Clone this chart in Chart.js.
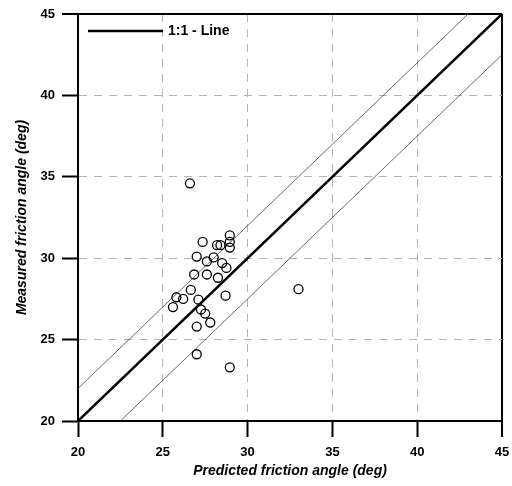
<!DOCTYPE html>
<html>
<head>
<meta charset="utf-8">
<script src="https://cdn.jsdelivr.net/npm/chart.js@4/dist/chart.umd.min.js"></script>
<style>
  html, body { margin: 0; padding: 0; background: #fff; }
  #wrap { width: 512px; height: 486px; }
</style>
</head>
<body>
<div id="wrap"><canvas id="chart" width="512" height="486"></canvas></div>
<script>
// measured vs predicted friction angles (deg)
const predicted = [26.6, 28.95, 27.35, 28.2, 28.4, 28.95, 28.95, 27.0, 28.0, 27.6,
  28.5, 28.75, 26.85, 27.6, 28.25, 26.65, 25.8, 26.2, 25.6, 28.7,
  27.1, 27.25, 27.5, 27.0, 27.8, 27.0, 28.95, 33.0];
const measured = [34.6, 31.4, 31.0, 30.8, 30.8, 31.0, 30.65, 30.1, 30.05, 29.8,
  29.7, 29.4, 29.0, 29.0, 28.8, 28.05, 27.6, 27.5, 27.0, 27.7,
  27.45, 26.85, 26.6, 25.8, 26.05, 24.1, 23.3, 28.1];

// 1:1 line and the two bounding lines
const oneToOneX = [20, 45];
const oneToOneY = [20, 45];
const upperX = [20, 43];
const upperY = [22, 45];
const lowerX = [22.5, 45];
const lowerY = [20, 42.5];

const axisMin = 20;
const axisMax = 45;
const tickStep = 5;

const legendLabel = "1:1 - Line";
const xTitle = "Predicted friction angle (deg)";
const yTitle = "Measured friction angle (deg)";

const toPoints = (xs, ys) => xs.map((x, i) => ({ x, y: ys[i] }));

const legendInside = {
    id: "legendInside",
    afterDraw(chart) {
        const ctx = chart.ctx;
        const a = chart.chartArea;
        ctx.save();
        ctx.strokeStyle = "#000";
        ctx.lineWidth = 2.5;
        ctx.beginPath();
        ctx.moveTo(a.left + 10, a.top + 17);
        ctx.lineTo(a.left + 85, a.top + 17);
        ctx.stroke();
        ctx.fillStyle = "#000";
        ctx.font = "bold 14px 'Liberation Sans', Arial, sans-serif";
        ctx.textBaseline = "middle";
        ctx.fillText(legendLabel, a.left + 90, a.top + 17);
        ctx.restore();
    }
};

const gridColor = c => (c.tick && c.tick.value === axisMax) ? "#000" : "#b4b4b4";
const gridWidth = c => (c.tick && c.tick.value === axisMax) ? 2 : 1;
const gridDash = c => (c.tick && c.tick.value !== axisMax) ? [8, 7] : [];

function makeAxis(title, isX) {
    return {
        type: "linear",
        min: axisMin,
        max: axisMax,
        ticks: {
            stepSize: tickStep,
            color: "#000",
            padding: isX ? 8 : 7,
            font: { family: "'Liberation Sans', Arial, sans-serif", size: 13, weight: "bold" }
        },
        grid: {
            color: gridColor,
            lineWidth: gridWidth,
            tickColor: "#000",
            tickWidth: 2,
            tickLength: 16,
            tickBorderDash: []
        },
        border: { color: "#000", width: 2, dash: gridDash },
        title: {
            display: true,
            text: title,
            color: "#000",
            padding: isX ? { top: 0, bottom: 6 } : { top: 14, bottom: 14 },
            font: { family: "'Liberation Sans', Arial, sans-serif", size: 14, weight: "bold", style: "italic" }
        },
        afterFit: s => {
            s.paddingLeft = 0;
            s.paddingRight = 0;
            s.paddingTop = 0;
            s.paddingBottom = 0;
            if (isX) s.height = 65;
            else s.width = 78;
        }
    };
}

new Chart(document.getElementById("chart"), {
    type: "scatter",
    data: {
        datasets: [
            {
                label: "data",
                data: toPoints(predicted, measured),
                pointRadius: 4.5,
                pointBorderWidth: 1.3,
                pointBorderColor: "#000",
                pointBackgroundColor: "rgba(255,255,255,0)",
                order: 0
            },
            {
                label: legendLabel,
                data: toPoints(oneToOneX, oneToOneY),
                showLine: true,
                borderColor: "#000",
                borderWidth: 2.5,
                pointRadius: 0,
                order: 1
            },
            {
                label: "upper",
                data: toPoints(upperX, upperY),
                showLine: true,
                borderColor: "#444",
                borderWidth: 0.8,
                pointRadius: 0,
                order: 2
            },
            {
                label: "lower",
                data: toPoints(lowerX, lowerY),
                showLine: true,
                borderColor: "#444",
                borderWidth: 0.8,
                pointRadius: 0,
                order: 2
            }
        ]
    },
    options: {
        responsive: false,
        animation: false,
        layout: { padding: { top: 14, right: 10, left: 0, bottom: 0 } },
        plugins: {
            legend: { display: false },
            tooltip: { enabled: false }
        },
        scales: {
            x: makeAxis(xTitle, true),
            y: makeAxis(yTitle, false)
        }
    },
    plugins: [legendInside]
});
</script>
</body>
</html>
